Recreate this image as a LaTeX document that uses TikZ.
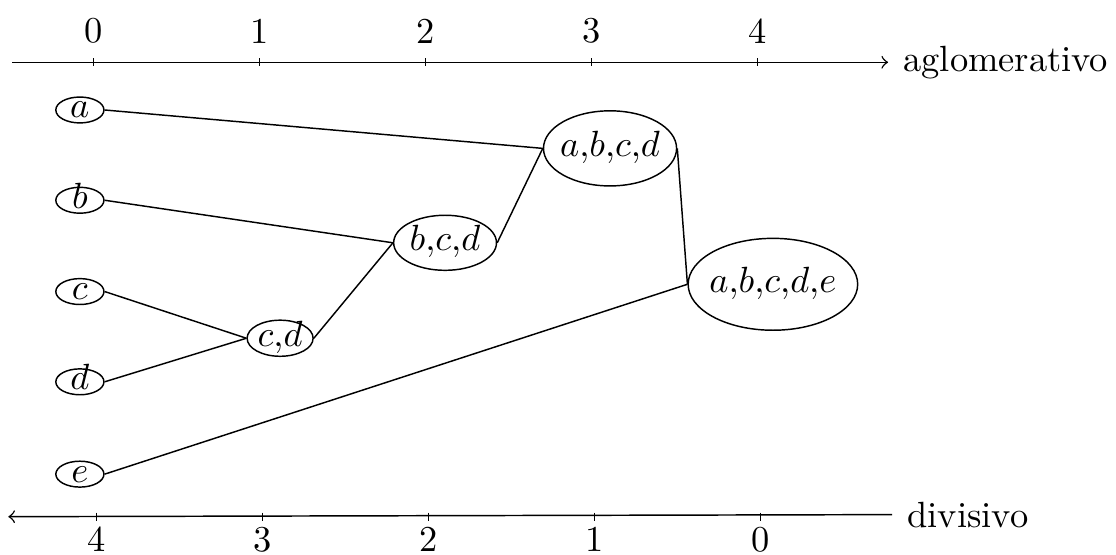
\documentclass[tikz,border=0pt]{standalone}
\usepackage{tikz}
\usetikzlibrary{shapes.geometric}
\tikzset{
  cluster/.style={draw, ellipse, inner xsep=-1pt, inner ysep=0pt, text height=1ex, text depth=0pt},
  leaf/.style={cluster, minimum width=13.2pt, minimum height=7.1pt},
  axislabel/.style={right, inner xsep=4pt},
}

\begin{document}
\begin{tikzpicture}
    \useasboundingbox (0,0) rectangle (10.757,-5.349);

    % Axes
    \coordinate (aglostart) at (0.12,-0.6);
    \node[axislabel] (aglo) at (8.56,-0.6) {aglomerativo};
    \draw[->] (aglostart) -- (aglo.west);
    \foreach \x [count=\i from 0] in {0.9,2.5,4.1,5.7,7.3} {
        \draw (\x,-0.56) -- (\x,-0.64);
        \node (aglotick\i) at (\x,-0.3) {\i};
    }

    \coordinate (divend) at (0.08,-4.98);
    \node[axislabel] (divi) at (8.6,-4.96) {divisivo};
    \draw[->] (divi.west) -- (divend);
    \foreach \x/\l in {0.93/4, 2.53/3, 4.13/2, 5.73/1, 7.33/0} {
        \draw (\x,-4.94) -- (\x,-5.02);
        \node (divtick\l) at (\x,-5.2) {\l};
    }

    % Objects
    \node[leaf] (a) at (0.77,-1.06) {$a$};
    \node[leaf] (b) at (0.77,-1.93) {$b$};
    \node[leaf] (c) at (0.77,-2.81) {$c$};
    \node[leaf] (d) at (0.77,-3.68) {$d$};
    \node[leaf] (e) at (0.77,-4.57) {$e$};

    % Clusters
    \node[cluster, minimum width=18.1pt, minimum height=9.9pt] (cd) at (2.70,-3.26) {$c{,}d$};
    \node[cluster, minimum width=28.2pt, minimum height=15.1pt] (bcd) at (4.29,-2.34) {$b{,}c{,}d$};
    \node[cluster, minimum width=36.5pt, minimum height=20.6pt] (abcd) at (5.88,-1.43) {$a{,}b{,}c{,}d$};
    \node[cluster, minimum width=45.2pt, minimum height=25.2pt] (abcde) at (7.45,-2.74) {$a{,}b{,}c{,}d{,}e$};

    % Merges
    \draw (c.east) -- (cd.west);
    \draw (d.east) -- (cd.west);
    \draw (b.east) -- (bcd.west);
    \draw (cd.east) -- (bcd.west);
    \draw (a.east) -- (abcd.west);
    \draw (bcd.east) -- (abcd.west);
    \draw (abcd.east) -- (abcde.west);
    \draw (e.east) -- (abcde.west);
\end{tikzpicture}
\end{document}
